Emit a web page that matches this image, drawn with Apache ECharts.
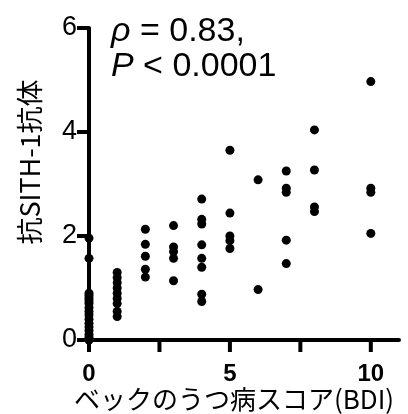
<!DOCTYPE html>
<html><head><meta charset="utf-8">
<script src="https://cdn.jsdelivr.net/npm/echarts@6/dist/echarts.min.js"></script>
<style>html,body{margin:0;padding:0;background:#fff}#c{width:408px;height:414px}</style>
</head><body><div id="c"></div>
<script>
const bdiScores = [0,1,2,3,4,5,6,7,8,10];
const antibodyByScore = [
  [1.96,1.57,0.9,0.85,0.8,0.75,0.7,0.62,0.55,0.48,0.4,0.32,0.25,0.18,0.1,0.05,0.0],
  [1.3,1.2,1.1,1.0,0.9,0.8,0.7,0.55,0.45],
  [2.13,1.84,1.61,1.36,1.21],
  [2.2,1.79,1.70,1.57,1.14],
  [2.71,2.32,2.23,1.83,1.57,1.40,0.88,0.74],
  [3.65,2.44,2.0,1.91,1.76],
  [3.08,0.97],
  [3.25,2.92,2.84,1.92,1.47],
  [4.04,3.27,2.56,2.47],
  [4.97,2.92,2.84,2.05]
];
const xTickValues = [0,2.5,5,7.5,10];
const xLabelValues = [0,5,10];
const yTicks = [0,2,4,6];
const rhoText = '0.83,';
const pText = '< 0.0001';
const xTitle = 'ベックのうつ病スコア(BDI)';
const yTitle = '抗SITH-1抗体';

const points = [];
bdiScores.forEach((s,i)=>antibodyByScore[i].forEach(v=>points.push([s,v])));

const chart = echarts.init(document.getElementById('c'));
const numFont = '"Liberation Sans", Arial, sans-serif';
const cjkFont = '"Noto Sans CJK JP", "Liberation Sans", sans-serif';
chart.setOption({
  animation:false,
  grid:{left:89,right:9,top:28,bottom:74,containLabel:false},
  xAxis:{type:'value',min:0,max:11,
    axisLine:{show:true,lineStyle:{color:'#000',width:4}},
    axisTick:{show:false},
    axisLabel:{customValues:xLabelValues,color:'#000',fontFamily:numFont,fontSize:24,fontWeight:'bold',margin:22},
    splitLine:{show:false}},
  yAxis:{type:'value',min:0,max:6,interval:2,
    axisLine:{show:true,lineStyle:{color:'#000',width:4}},
    axisTick:{show:false},
    axisLabel:{color:'#000',fontFamily:numFont,fontSize:27,margin:12,
      formatter:v=>yTicks.includes(v)?String(v):''},
    splitLine:{show:false}},
  series:[
    {type:'custom',data:xTickValues.map(v=>[v,0]),clip:false,silent:true,z:5,
      renderItem:(params,api)=>{const p=api.coord([api.value(0),api.value(1)]);
        return {type:'rect',shape:{x:p[0]-2,y:p[1],width:4,height:12},style:{fill:'#000'}};}},
    {type:'custom',data:yTicks.map(v=>[0,v]),clip:false,silent:true,z:5,
      renderItem:(params,api)=>{const p=api.coord([api.value(0),api.value(1)]);
        return {type:'rect',shape:{x:p[0]-12,y:p[1]-2,width:12,height:4},style:{fill:'#000'}};}},
    {type:'scatter',data:points,symbol:'circle',symbolSize:9,
      itemStyle:{color:'#000',opacity:1},clip:false,z:6}],
  graphic:[
    {type:'text',left:111,top:14,style:{
      text:'{i|ρ} = '+rhoText+'\n{i|P} '+pText,
      rich:{i:{fontStyle:'italic',fontFamily:numFont,fontSize:34,fill:'#000',lineHeight:35}},
      font:'34px "Liberation Sans", Arial, sans-serif',fill:'#000',lineHeight:35}},
    {type:'text',x:234,y:399,style:{text:xTitle,font:'26px '+cjkFont,fill:'#000',align:'center',verticalAlign:'middle'}},
    {type:'text',x:30,y:162,rotation:Math.PI/2,style:{text:yTitle,font:'27px '+cjkFont,fill:'#000',align:'center',verticalAlign:'middle'}}
  ]
});
</script></body></html>
